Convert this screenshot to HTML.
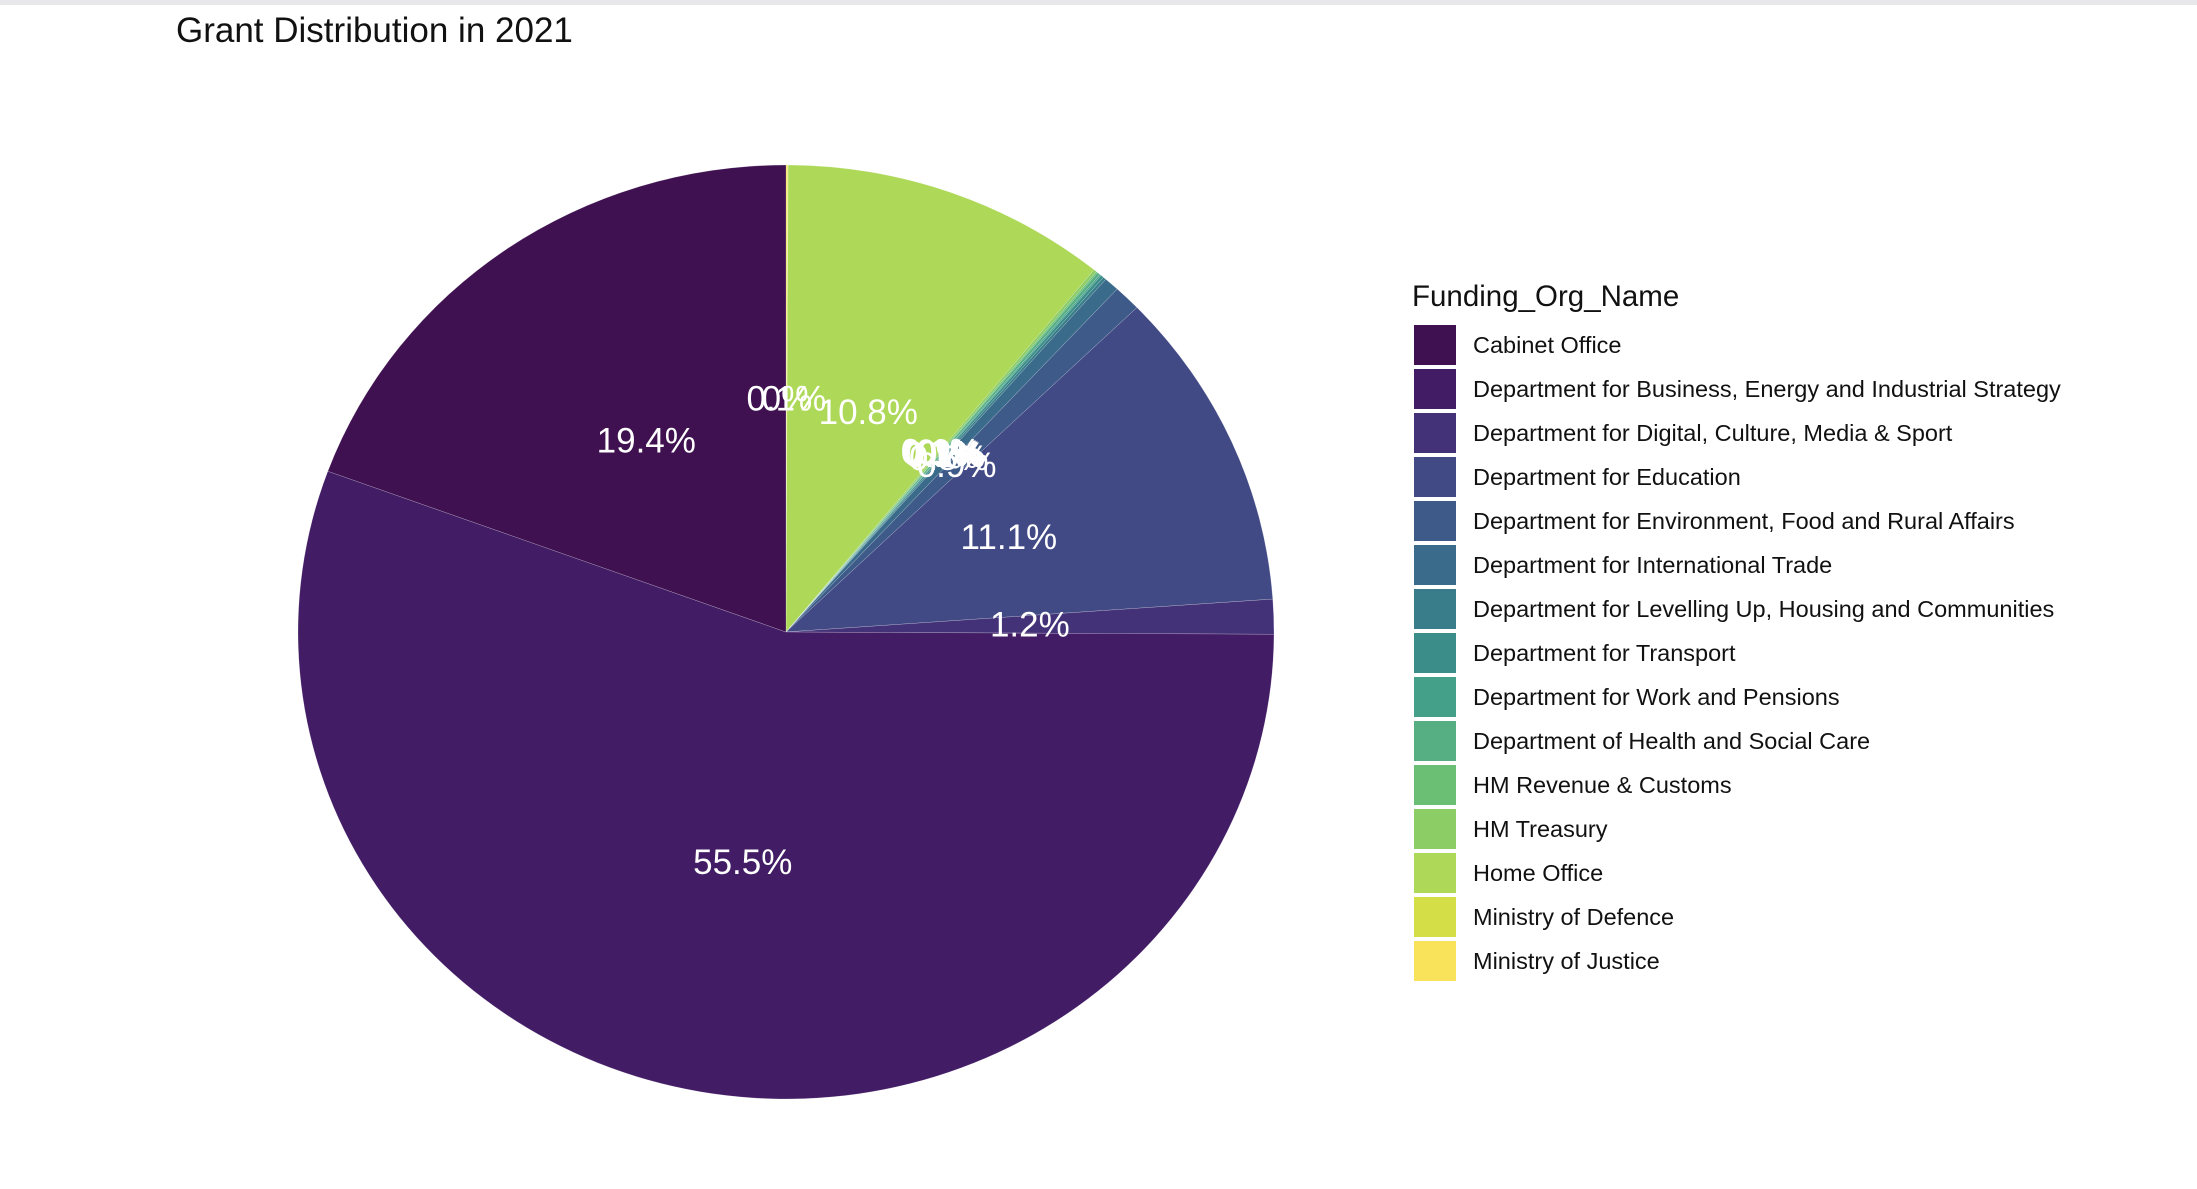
<!DOCTYPE html>
<html><head><meta charset="utf-8"><style>
body{margin:0;background:#fff;width:2197px;height:1184px;overflow:hidden;font-family:"Liberation Sans",Arial,sans-serif}
</style></head><body>
<svg id="chart" width="2197" height="1184" xmlns="http://www.w3.org/2000/svg">
<rect x="0" y="0" width="2197" height="5" fill="#e8e8ea"/>
<text x="176" y="42" font-size="35" fill="#111">Grant Distribution in 2021</text>
<g id="slices"></g>
<g id="labels"></g>
<text x="1412" y="306" font-size="29.5" fill="#111">Funding_Org_Name</text>
<g id="legend"></g>
</svg>
<script>
const categories = ["Cabinet Office","Department for Business, Energy and Industrial Strategy","Department for Digital, Culture, Media & Sport","Department for Education","Department for Environment, Food and Rural Affairs","Department for International Trade","Department for Levelling Up, Housing and Communities","Department for Transport","Department for Work and Pensions","Department of Health and Social Care","HM Revenue & Customs","HM Treasury","Home Office","Ministry of Defence","Ministry of Justice"];
const values = [19.4,55.5,1.2,11.1,0.9,0.5,0.1,0.1,0.05,0.1,0.05,0.1,10.8,0.02,0.05];
const labels = ["19.4%","55.5%","1.2%","11.1%","0.9%","0.5%","0.1%","0.1%","0%","0.1%","0%","0.1%","10.8%","0%","0.1%"];
const colors = ["#3F1150","#421C65","#433278","#424A85","#3D5A89","#3A6B8A","#3A7D8A","#3A8D88","#45A08A","#55AF82","#6ABF75","#8DCD66","#ADD858","#D4DF48","#F8E35A"];

const NS="http://www.w3.org/2000/svg";
const cx=786, cy=632, rx=488, ry=467;
const total=values.reduce((a,b)=>a+b,0);
const slicesG=document.getElementById('slices');
const labelsG=document.getElementById('labels');
const legendG=document.getElementById('legend');
function pt(frac,s){const a=frac*2*Math.PI;return [cx+s*rx*Math.sin(a), cy-s*ry*Math.cos(a)];}
let acc=0;
for(let k=categories.length-1;k>=0;k--){
  const f0=acc/total, f1=(acc+values[k])/total; acc+=values[k];
  const p0=pt(f0,1), p1=pt(f1,1);
  const large=(f1-f0)>0.5?1:0;
  const path=document.createElementNS(NS,'path');
  path.setAttribute('d',`M${cx},${cy} L${p0[0]},${p0[1]} A${rx},${ry} 0 ${large} 1 ${p1[0]},${p1[1]} Z`);
  path.setAttribute('fill',colors[k]);
  path.setAttribute('stroke','#ffffff');
  path.setAttribute('stroke-width','0.4');
  path.setAttribute('stroke-opacity','0.5');
  
  
  slicesG.appendChild(path);
  const lp=pt((f0+f1)/2,0.5);
  const t=document.createElementNS(NS,'text');
  t.setAttribute('x',lp[0]); t.setAttribute('y',lp[1]+12);
  t.setAttribute('text-anchor','middle'); t.setAttribute('font-size','35'); t.setAttribute('fill','#fff');
  t.textContent=labels[k];
  
  
  labelsG.appendChild(t);
}
categories.forEach((c,i)=>{
  const y=325+i*44;
  const r=document.createElementNS(NS,'rect');
  r.setAttribute('x',1414); r.setAttribute('y',y); r.setAttribute('width',42); r.setAttribute('height',40);
  r.setAttribute('fill',colors[i]);
  
  
  legendG.appendChild(r);
  const t=document.createElementNS(NS,'text');
  t.setAttribute('x',1473); t.setAttribute('y',y+28); t.setAttribute('font-size','23.5'); t.setAttribute('fill','#111');
  t.textContent=c;
  
  
  legendG.appendChild(t);
});
</script>
</body></html>
